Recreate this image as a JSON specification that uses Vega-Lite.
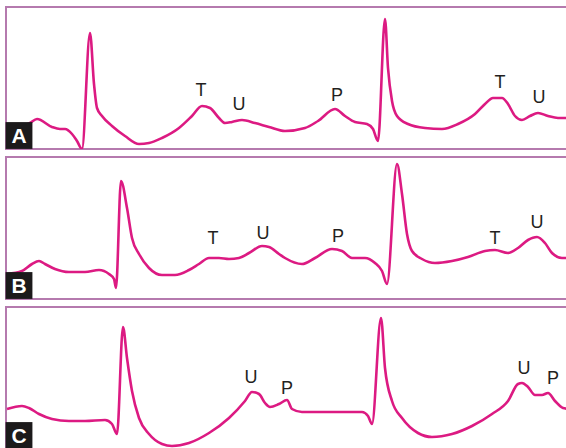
{
  "$schema": "https://vega.github.io/schema/vega-lite/v6.json",
  "padding": {"left": 4, "top": 6, "right": 0, "bottom": 0},
  "background": "white",
  "bounds": "flush",
  "config": {"view": {"stroke": "#b57aae", "strokeWidth": 2}, "font": "Liberation Sans"},
  "spacing": 8,
  "datasets": {
    "trace": [
      {"panel":"A","x":20,"y":24},{"panel":"A","x":24,"y":26},{"panel":"A","x":31,"y":30},{"panel":"A","x":46,"y":22},{"panel":"A","x":54,"y":20},{"panel":"A","x":59,"y":20},{"panel":"A","x":66,"y":15},{"panel":"A","x":71,"y":8},{"panel":"A","x":76,"y":0},{"panel":"A","x":84,"y":116},{"panel":"A","x":88,"y":65},{"panel":"A","x":91,"y":41},{"panel":"A","x":96,"y":33},{"panel":"A","x":106,"y":23},{"panel":"A","x":119,"y":13},{"panel":"A","x":133,"y":5},{"panel":"A","x":143,"y":6},{"panel":"A","x":156,"y":11},{"panel":"A","x":173,"y":21},{"panel":"A","x":186,"y":33},{"panel":"A","x":196,"y":43},{"panel":"A","x":204,"y":41},{"panel":"A","x":213,"y":31},{"panel":"A","x":219,"y":26},{"panel":"A","x":226,"y":27},{"panel":"A","x":236,"y":29},{"panel":"A","x":249,"y":26},{"panel":"A","x":263,"y":22},{"panel":"A","x":279,"y":18},{"panel":"A","x":299,"y":21},{"panel":"A","x":312,"y":28},{"panel":"A","x":329,"y":40},{"panel":"A","x":339,"y":33},{"panel":"A","x":349,"y":27},{"panel":"A","x":361,"y":25},{"panel":"A","x":367,"y":20},{"panel":"A","x":372,"y":8},{"panel":"A","x":379,"y":130},{"panel":"A","x":382,"y":81},{"panel":"A","x":386,"y":48},{"panel":"A","x":391,"y":33},{"panel":"A","x":402,"y":25},{"panel":"A","x":419,"y":21},{"panel":"A","x":436,"y":20},{"panel":"A","x":452,"y":25},{"panel":"A","x":469,"y":35},{"panel":"A","x":479,"y":45},{"panel":"A","x":487,"y":51},{"panel":"A","x":496,"y":51},{"panel":"A","x":502,"y":45},{"panel":"A","x":509,"y":33},{"panel":"A","x":516,"y":29},{"panel":"A","x":524,"y":33},{"panel":"A","x":532,"y":36},{"panel":"A","x":542,"y":33},{"panel":"A","x":552,"y":31},{"panel":"A","x":564,"y":31},
      {"panel":"B","x":1,"y":25},{"panel":"B","x":16,"y":28},{"panel":"B","x":26,"y":35},{"panel":"B","x":33,"y":38},{"panel":"B","x":39,"y":35},{"panel":"B","x":49,"y":30},{"panel":"B","x":63,"y":27},{"panel":"B","x":79,"y":27},{"panel":"B","x":93,"y":29},{"panel":"B","x":103,"y":25},{"panel":"B","x":108,"y":20},{"panel":"B","x":110,"y":11},{"panel":"B","x":115,"y":118},{"panel":"B","x":121,"y":91},{"panel":"B","x":126,"y":61},{"panel":"B","x":133,"y":45},{"panel":"B","x":143,"y":31},{"panel":"B","x":156,"y":24},{"panel":"B","x":169,"y":24},{"panel":"B","x":183,"y":29},{"panel":"B","x":193,"y":35},{"panel":"B","x":203,"y":41},{"panel":"B","x":213,"y":41},{"panel":"B","x":223,"y":40},{"panel":"B","x":233,"y":41},{"panel":"B","x":243,"y":46},{"panel":"B","x":256,"y":53},{"panel":"B","x":263,"y":52},{"panel":"B","x":273,"y":45},{"panel":"B","x":279,"y":41},{"panel":"B","x":296,"y":35},{"panel":"B","x":309,"y":41},{"panel":"B","x":326,"y":50},{"panel":"B","x":336,"y":48},{"panel":"B","x":346,"y":41},{"panel":"B","x":359,"y":41},{"panel":"B","x":369,"y":36},{"panel":"B","x":376,"y":28},{"panel":"B","x":381,"y":15},{"panel":"B","x":391,"y":135},{"panel":"B","x":396,"y":105},{"panel":"B","x":401,"y":65},{"panel":"B","x":406,"y":48},{"panel":"B","x":416,"y":40},{"panel":"B","x":429,"y":36},{"panel":"B","x":446,"y":38},{"panel":"B","x":462,"y":42},{"panel":"B","x":479,"y":48},{"panel":"B","x":489,"y":49},{"panel":"B","x":502,"y":46},{"panel":"B","x":512,"y":51},{"panel":"B","x":522,"y":59},{"panel":"B","x":531,"y":62},{"panel":"B","x":539,"y":56},{"panel":"B","x":546,"y":46},{"panel":"B","x":556,"y":41},{"panel":"B","x":564,"y":41},
      {"panel":"C","x":1,"y":40},{"panel":"C","x":16,"y":43},{"panel":"C","x":23,"y":41},{"panel":"C","x":33,"y":35},{"panel":"C","x":46,"y":30},{"panel":"C","x":63,"y":28},{"panel":"C","x":79,"y":28},{"panel":"C","x":99,"y":29},{"panel":"C","x":106,"y":25},{"panel":"C","x":111,"y":15},{"panel":"C","x":117,"y":122},{"panel":"C","x":121,"y":91},{"panel":"C","x":126,"y":58},{"panel":"C","x":133,"y":31},{"panel":"C","x":143,"y":15},{"panel":"C","x":156,"y":5},{"panel":"C","x":166,"y":3},{"panel":"C","x":183,"y":6},{"panel":"C","x":203,"y":16},{"panel":"C","x":223,"y":31},{"panel":"C","x":239,"y":48},{"panel":"C","x":246,"y":57},{"panel":"C","x":253,"y":55},{"panel":"C","x":259,"y":46},{"panel":"C","x":264,"y":42},{"panel":"C","x":273,"y":45},{"panel":"C","x":281,"y":49},{"panel":"C","x":286,"y":40},{"panel":"C","x":296,"y":37},{"panel":"C","x":312,"y":37},{"panel":"C","x":356,"y":37},{"panel":"C","x":362,"y":33},{"panel":"C","x":366,"y":25},{"panel":"C","x":375,"y":131},{"panel":"C","x":379,"y":81},{"panel":"C","x":386,"y":48},{"panel":"C","x":396,"y":31},{"panel":"C","x":412,"y":16},{"panel":"C","x":426,"y":12},{"panel":"C","x":446,"y":15},{"panel":"C","x":466,"y":23},{"panel":"C","x":486,"y":35},{"panel":"C","x":502,"y":48},{"panel":"C","x":512,"y":65},{"panel":"C","x":516,"y":66},{"panel":"C","x":522,"y":62},{"panel":"C","x":529,"y":54},{"panel":"C","x":536,"y":54},{"panel":"C","x":542,"y":56},{"panel":"C","x":549,"y":48},{"panel":"C","x":557,"y":41},{"panel":"C","x":564,"y":40}
    ],
    "labels": [
      {"panel":"A","x":195,"y":58,"label":"T"},{"panel":"A","x":233,"y":44,"label":"U"},{"panel":"A","x":331,"y":53,"label":"P"},{"panel":"A","x":494,"y":66,"label":"T"},{"panel":"A","x":533,"y":51,"label":"U"},
      {"panel":"B","x":207,"y":60,"label":"T"},{"panel":"B","x":257,"y":65,"label":"U"},{"panel":"B","x":332,"y":62,"label":"P"},{"panel":"B","x":489,"y":60,"label":"T"},{"panel":"B","x":531,"y":76,"label":"U"},
      {"panel":"C","x":245,"y":71,"label":"U"},{"panel":"C","x":281,"y":60,"label":"P"},{"panel":"C","x":518,"y":80,"label":"U"},{"panel":"C","x":547,"y":70,"label":"P"}
    ],
    "tags": [
      {"panel":"A","x":13,"y":13.5,"label":"A"},{"panel":"B","x":13,"y":13.5,"label":"B"},{"panel":"C","x":13,"y":13.5,"label":"C"}
    ]
  },
  "vconcat": [
    {"width":564,"height":142,"layer":[
      {"data":{"name":"trace"},"transform":[{"filter":"datum.panel==='A'"}],"mark":{"type":"line","interpolate":"monotone","color":"#dc1a82","strokeWidth":2.6,"clip":true},"encoding":{"x":{"field":"x","type":"quantitative","scale":{"domain":[0,564],"nice":false,"zero":false},"axis":null},"y":{"field":"y","type":"quantitative","scale":{"domain":[0,142],"nice":false,"zero":false},"axis":null}}},
      {"data":{"name":"labels"},"transform":[{"filter":"datum.panel==='A'"}],"mark":{"type":"text","fontSize":18,"color":"#231f20","baseline":"middle","align":"center"},"encoding":{"x":{"field":"x","type":"quantitative"},"y":{"field":"y","type":"quantitative"},"text":{"field":"label"}}},
      {"data":{"name":"tags"},"transform":[{"filter":"datum.panel==='A'"}],"mark":{"type":"square","size":720,"color":"#1c1a1b","opacity":1,"filled":true},"encoding":{"x":{"field":"x","type":"quantitative"},"y":{"field":"y","type":"quantitative"}}},
      {"data":{"name":"tags"},"transform":[{"filter":"datum.panel==='A'"}],"mark":{"type":"text","fontSize":21,"fontWeight":"bold","color":"white","baseline":"middle","align":"center","dy":1},"encoding":{"x":{"field":"x","type":"quantitative"},"y":{"field":"y","type":"quantitative"},"text":{"field":"label"}}}
    ]},
    {"width":564,"height":142,"layer":[
      {"data":{"name":"trace"},"transform":[{"filter":"datum.panel==='B'"}],"mark":{"type":"line","interpolate":"monotone","color":"#dc1a82","strokeWidth":2.6,"clip":true},"encoding":{"x":{"field":"x","type":"quantitative","scale":{"domain":[0,564],"nice":false,"zero":false},"axis":null},"y":{"field":"y","type":"quantitative","scale":{"domain":[0,142],"nice":false,"zero":false},"axis":null}}},
      {"data":{"name":"labels"},"transform":[{"filter":"datum.panel==='B'"}],"mark":{"type":"text","fontSize":18,"color":"#231f20","baseline":"middle","align":"center"},"encoding":{"x":{"field":"x","type":"quantitative"},"y":{"field":"y","type":"quantitative"},"text":{"field":"label"}}},
      {"data":{"name":"tags"},"transform":[{"filter":"datum.panel==='B'"}],"mark":{"type":"square","size":720,"color":"#1c1a1b","opacity":1,"filled":true},"encoding":{"x":{"field":"x","type":"quantitative"},"y":{"field":"y","type":"quantitative"}}},
      {"data":{"name":"tags"},"transform":[{"filter":"datum.panel==='B'"}],"mark":{"type":"text","fontSize":21,"fontWeight":"bold","color":"white","baseline":"middle","align":"center","dy":1},"encoding":{"x":{"field":"x","type":"quantitative"},"y":{"field":"y","type":"quantitative"},"text":{"field":"label"}}}
    ]},
    {"width":564,"height":142,"layer":[
      {"data":{"name":"trace"},"transform":[{"filter":"datum.panel==='C'"}],"mark":{"type":"line","interpolate":"monotone","color":"#dc1a82","strokeWidth":2.6,"clip":true},"encoding":{"x":{"field":"x","type":"quantitative","scale":{"domain":[0,564],"nice":false,"zero":false},"axis":null},"y":{"field":"y","type":"quantitative","scale":{"domain":[0,142],"nice":false,"zero":false},"axis":null}}},
      {"data":{"name":"labels"},"transform":[{"filter":"datum.panel==='C'"}],"mark":{"type":"text","fontSize":18,"color":"#231f20","baseline":"middle","align":"center"},"encoding":{"x":{"field":"x","type":"quantitative"},"y":{"field":"y","type":"quantitative"},"text":{"field":"label"}}},
      {"data":{"name":"tags"},"transform":[{"filter":"datum.panel==='C'"}],"mark":{"type":"square","size":720,"color":"#1c1a1b","opacity":1,"filled":true},"encoding":{"x":{"field":"x","type":"quantitative"},"y":{"field":"y","type":"quantitative"}}},
      {"data":{"name":"tags"},"transform":[{"filter":"datum.panel==='C'"}],"mark":{"type":"text","fontSize":21,"fontWeight":"bold","color":"white","baseline":"middle","align":"center","dy":1},"encoding":{"x":{"field":"x","type":"quantitative"},"y":{"field":"y","type":"quantitative"},"text":{"field":"label"}}}
    ]}
  ]
}
